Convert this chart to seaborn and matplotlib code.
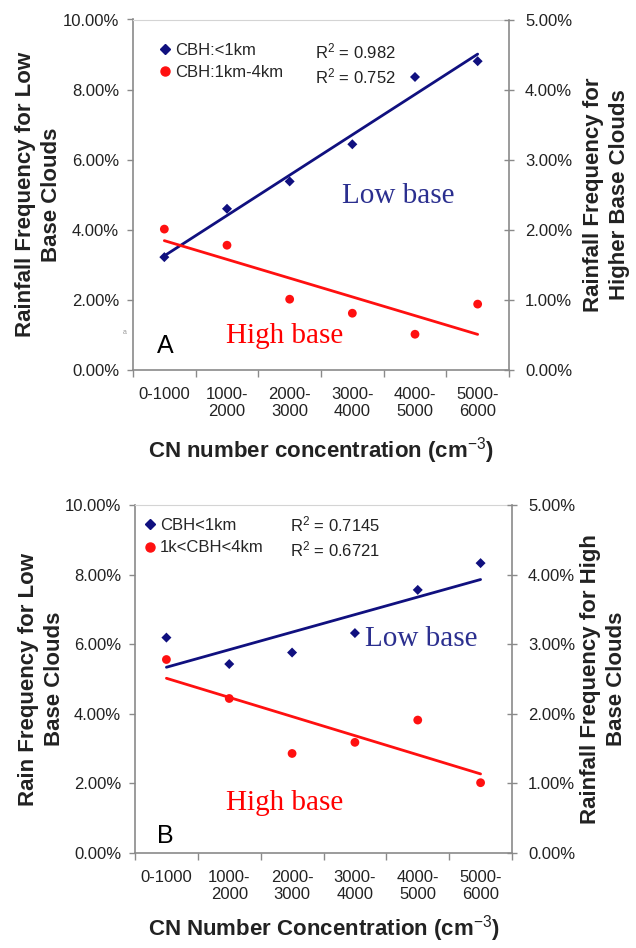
import numpy as np
import pandas as pd
import matplotlib
matplotlib.use("Agg")
import matplotlib.pyplot as plt
import seaborn as sns
from matplotlib.lines import Line2D
from matplotlib.ticker import FuncFormatter

# ---------------- data ----------------
categories = ["0-1000", "1000-\n2000", "2000-\n3000", "3000-\n4000", "4000-\n5000", "5000-\n6000"]
a_low = [3.22, 4.60, 5.38, 6.44, 8.36, 8.81]      # % (left axis)
a_high = [2.01, 1.78, 1.01, 0.81, 0.51, 0.94]     # % (right axis)
b_low = [6.19, 5.43, 5.76, 6.32, 7.56, 8.33]
b_high = [2.78, 2.22, 1.43, 1.59, 1.91, 1.01]
left_ticks = [0, 2, 4, 6, 8, 10]
right_ticks = [0, 1, 2, 3, 4, 5]

sns.set_style("white")
plt.rcParams["font.family"] = ["Liberation Sans", "DejaVu Sans"]
plt.rcParams["mathtext.fontset"] = "custom"
plt.rcParams["mathtext.rm"] = "Liberation Sans"
plt.rcParams["mathtext.it"] = "Liberation Sans:italic"
plt.rcParams["mathtext.bf"] = "Liberation Sans:bold"

NAVY = "#10107f"
NAVY_TXT = "#2b2f8f"
RED = "#ff1010"
SPINE = "#8a8a8a"
TXT = "#222222"

fig = plt.figure(figsize=(6.36, 9.48), dpi=100)
pct = FuncFormatter(lambda v, p: f"{v:.2f}%")


def panel(rect, low, high, low_lab, high_lab, r2_low, r2_high, left_lab, right_lab,
          xlab, letter, cfg):
    ax = fig.add_axes(rect)
    ax2 = ax.twinx()
    pos = np.arange(len(categories)) + 0.5
    df = pd.DataFrame({"pos": pos, "low": low, "high": high})
    sns.regplot(data=df, x="pos", y="low", ax=ax, ci=None, marker="D",
                scatter_kws=dict(s=26, color=NAVY, edgecolors="none", alpha=1, zorder=3),
                line_kws=dict(color=NAVY, lw=2.0))
    sns.regplot(data=df, x="pos", y="high", ax=ax2, ci=None, marker="o",
                scatter_kws=dict(s=40, color=RED, edgecolors="none", alpha=1, zorder=3),
                line_kws=dict(color=RED, lw=2.0))

    ax.set_xlim(0, 6)
    ax.set_ylim(0, 10)
    ax2.set_ylim(0, 5)
    ax.set_yticks(left_ticks)
    ax2.set_yticks(right_ticks)
    ax.yaxis.set_major_formatter(pct)
    ax2.yaxis.set_major_formatter(pct)
    ax.set_xticks(range(7))
    ax.set_xticklabels([])
    ax.set_xticks(pos, minor=True)
    ax.set_xticklabels(categories, minor=True)
    ax.tick_params(axis="x", which="major", length=5, width=1, color=SPINE, direction="out", bottom=True)
    ax.tick_params(axis="x", which="minor", length=0, pad=12, labelsize=12, labelcolor=TXT)
    ax.tick_params(axis="y", length=4, width=1, color=SPINE, direction="out", left=True,
                   pad=6, labelsize=12, labelcolor=TXT)
    ax2.tick_params(axis="y", length=7, width=1, color=SPINE, direction="inout", right=True,
                    pad=8, labelsize=12, labelcolor=TXT)

    for s in ["left", "bottom"]:
        ax.spines[s].set_color(SPINE)
        ax.spines[s].set_linewidth(1.2)
    ax.spines["top"].set_color("#d4d4d4")
    ax.spines["right"].set_visible(False)
    for s in ["left", "bottom", "top"]:
        ax2.spines[s].set_visible(False)
    ax2.spines["right"].set_color(SPINE)
    ax2.spines["right"].set_linewidth(1.2)

    ax.set_xlabel(xlab, fontsize=16, fontweight="bold", color=TXT)
    ax.xaxis.set_label_coords(0.5, cfg["xlab_y"])
    ax.set_ylabel(left_lab, fontsize=16, fontweight="bold", color=TXT, linespacing=1.3)
    ax.yaxis.set_label_coords(cfg["ylab_l"], 0.5)
    ax2.set_ylabel(right_lab, fontsize=16, fontweight="bold", color=TXT, linespacing=1.3)
    ax2.yaxis.set_label_coords(cfg["ylab_r"], 0.5)

    handles = [Line2D([], [], marker="D", color=NAVY, ls="none", markersize=5),
               Line2D([], [], marker="o", color=RED, ls="none", markersize=6.5)]
    ax2.legend(handles, [low_lab, high_lab], loc="upper left", bbox_to_anchor=cfg["leg"],
               frameon=False, fontsize=12, handlelength=0.6, handletextpad=0.3,
               borderpad=0, borderaxespad=0, labelspacing=0.45)
    for txt, yv in zip([r2_low, r2_high], cfg["r2_y"]):
        ax.text(cfg["r2_x"], yv, txt, fontsize=12, color=TXT, va="center", ha="left")

    ax.text(*cfg["low_pos"], "Low base", family=["Liberation Serif"], fontsize=21,
            color=NAVY_TXT, va="baseline", ha="left")
    ax.text(*cfg["high_pos"], "High base", family=["Liberation Serif"], fontsize=21,
            color="#ff0000", va="baseline", ha="left")
    ax.text(*cfg["letter_pos"], letter, fontsize=18, color="black", va="baseline", ha="left")
    return ax, ax2


axA, axA2 = panel([133 / 636, 1 - 370 / 948, 376 / 636, 350.5 / 948], a_low, a_high,
                  "CBH:<1km", "CBH:1km-4km", "R$^2$ = 0.982", "R$^2$ = 0.752",
                  "Rainfall Frequency for Low\nBase Clouds",
                  "Rainfall Frequency for\nHigher Base Clouds",
                  "CN number concentration (cm$^{-3}$)", "A",
                  dict(xlab_y=-0.185, ylab_l=-0.19, ylab_r=1.198, leg=(0.073, 0.934),
                       r2_x=2.9, r2_y=[9.1, 8.38], low_pos=(3.33, 4.76),
                       high_pos=(1.48, 0.77), letter_pos=(0.38, 0.485)))
axA.text(-0.021, 0.106, "a", transform=axA.transAxes, fontsize=5, color="#999999",
         ha="center", va="center")

panel([135 / 636, 1 - 853 / 948, 377 / 636, 348 / 948], b_low, b_high,
      "CBH<1km", "1k<CBH<4km", "R$^2$ = 0.7145", "R$^2$ = 0.6721",
      "Rain Frequency for Low\nBase Clouds",
      "Rainfall Frequency for High\nBase Clouds",
      "CN Number Concentration (cm$^{-3}$)", "B",
      dict(xlab_y=-0.172, ylab_l=-0.186, ylab_r=1.18, leg=(0.027, 0.963),
           r2_x=2.47, r2_y=[9.43, 8.71], low_pos=(3.66, 5.95),
           high_pos=(1.45, 1.24), letter_pos=(0.355, 0.296)))

fig.savefig("out.png", dpi=100)
